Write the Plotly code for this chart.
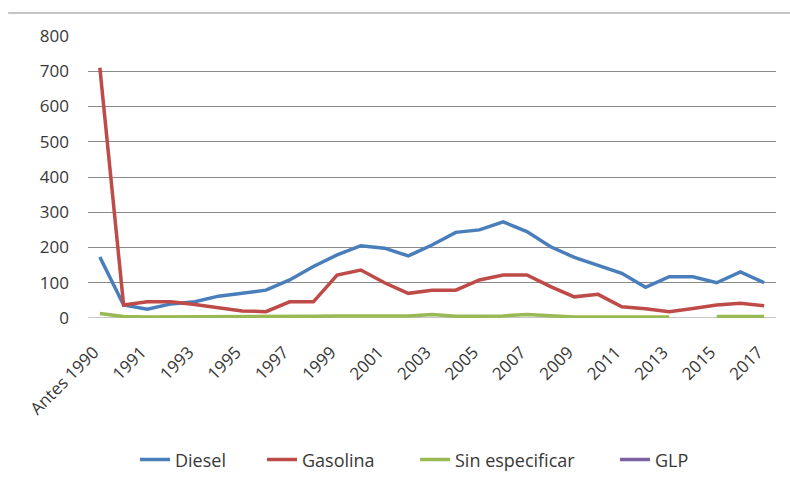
import plotly.graph_objects as go

categories = ["Antes 1990"] + [str(y) for y in range(1990, 2018)]
diesel = [173, 37, 25, 40, 46, 62, 70, 79, 108, 146, 179, 205, 198, 176, 207, 243, 250, 273, 245, 202, 172, 150, 127, 87, 117, 117, 100, 131, 100]
gasolina = [710, 37, 46, 46, 38, 30, 20, 18, 46, 46, 122, 136, 100, 70, 79, 79, 108, 122, 122, 89, 60, 67, 32, 26, 18, 27, 37, 42, 35]
sin_especificar = [13, 4, 3, 3, 3, 3, 3, 3, 4, 5, 6, 6, 4, 6, 10, 5, 5, 6, 10, 6, 3, 3, 3, 3, 3, None, 4, 4, 4]
glp = [None] * len(categories)
tick_labels = categories[::2]
y_ticks = [0, 100, 200, 300, 400, 500, 600, 700, 800]

x = list(range(len(categories)))
series = [
    ("Diesel", diesel, "#4A7EBB"),
    ("Gasolina", gasolina, "#BE4B48"),
    ("Sin especificar", sin_especificar, "#98B954"),
    ("GLP", glp, "#7D60A0"),
]
legend_ids = ["legend", "legend2", "legend3", "legend4"]
legend_left_px = [135, 262, 415, 615]

fam = "Open Sans, Lato, sans-serif"
txt = "#383838"

fig = go.Figure()
for (name, vals, col), lid in zip(series, legend_ids):
    fig.add_trace(go.Scatter(x=x, y=vals, name=name, mode="lines", legend=lid,
                             line=dict(color=col, width=3.5), connectgaps=False))

legend_layout = {}
for lid, px in zip(legend_ids, legend_left_px):
    legend_layout[lid] = dict(orientation="h", xref="container", yref="container",
                              x=px / 790, xanchor="left", y=0.046, yanchor="middle",
                              font=dict(family=fam, size=18, color=txt),
                              bgcolor="rgba(0,0,0,0)")

fig.update_layout(
    width=790, height=482,
    margin=dict(l=88, r=14, t=36, b=164),
    paper_bgcolor="white", plot_bgcolor="white",
    font=dict(family=fam, size=17, color=txt),
    showlegend=True,
    xaxis=dict(range=[-0.5, len(categories) - 0.5], tickmode="array",
               tickvals=x[::2], ticktext=tick_labels, tickangle=-45,
               tickfont=dict(size=17), ticklabelstandoff=20, ticklabelshift=-6,
               showgrid=False, zeroline=False, showline=False, ticks="", automargin=False),
    yaxis=dict(range=[0, 800], tickvals=y_ticks, showgrid=True, gridcolor="#8a8a8a",
               tickfont=dict(size=17),
               gridwidth=1, zeroline=False, showline=False, ticks="", ticklabelstandoff=18,
               automargin=False),
    **legend_layout,
)
fig.add_shape(type="line", xref="paper", yref="paper", x0=-0.116, x1=1.03, y0=1.0816, y1=1.0816,
              line=dict(color="#8a8a8a", width=1))
fig.add_shape(type="line", xref="paper", yref="y", x0=0, x1=1, y0=0, y1=0,
              line=dict(color="#8a8a8a", width=1), layer="below")

fig.write_html("out.html", config={"displayModeBar": False},
               post_script="document.body.style.margin='0';document.body.style.padding='0';")
